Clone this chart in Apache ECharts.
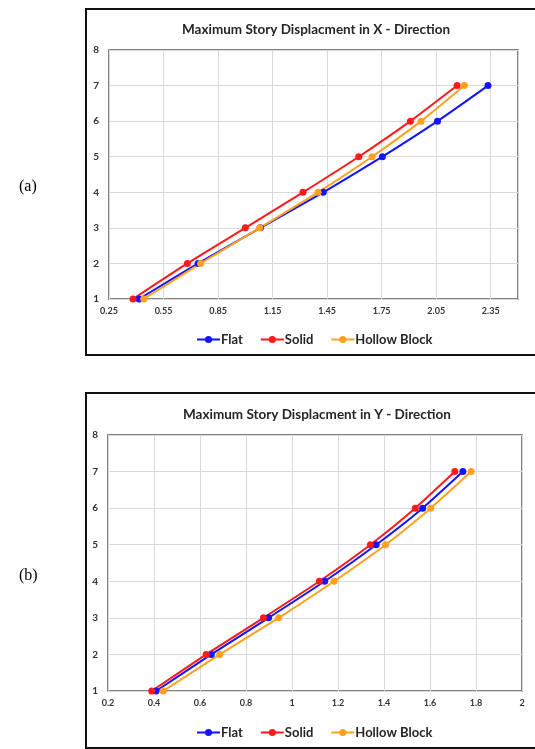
<!DOCTYPE html>
<html>
<head>
<meta charset="utf-8">
<script src="https://cdn.jsdelivr.net/npm/echarts@6/dist/echarts.min.js"></script>
<style>
html,body{margin:0;padding:0;background:#fff;}
#c{width:535px;height:749px;}
</style>
</head>
<body>
<div id="c"></div>
<script>
// ---- data ----
var stories = [1, 2, 3, 4, 5, 6, 7];
var seriesNames = ['Flat', 'Solid', 'Hollow Block'];
// X - Direction
var flatX   = [0.415, 0.740, 1.083, 1.429, 1.754, 2.057, 2.335];
var solidX  = [0.382, 0.681, 1.000, 1.317, 1.624, 1.908, 2.165];
var hollowX = [0.441, 0.754, 1.079, 1.400, 1.697, 1.967, 2.205];
// Y - Direction
var flatY   = [0.409, 0.649, 0.898, 1.142, 1.366, 1.568, 1.743];
var solidY  = [0.390, 0.627, 0.876, 1.119, 1.341, 1.536, 1.708];
var hollowY = [0.440, 0.686, 0.942, 1.183, 1.407, 1.603, 1.779];
// axis ticks
var xTicksA = [0.25, 0.55, 0.85, 1.15, 1.45, 1.75, 2.05, 2.35];
var xTicksB = [0.2, 0.4, 0.6, 0.8, 1, 1.2, 1.4, 1.6, 1.8, 2];
var yTicks  = [1, 2, 3, 4, 5, 6, 7, 8];
var titles = ['Maximum Story Displacment in X - Direction', 'Maximum Story Displacment in Y - Direction'];

var colors = ['#1414ff', '#ff1a1a', '#ffa01e'];
var FONT = 'Lato, "Open Sans", sans-serif';

function pairs(xs) { return xs.map(function (v, i) { return [v, stories[i]]; }); }

function mkSeries(name, data, idx, color) {
  return {
    name: name, type: 'line', xAxisIndex: idx, yAxisIndex: idx,
    data: pairs(data), smooth: 0.2, symbol: 'circle', symbolSize: 7,
    lineStyle: { color: color, width: 2 }, itemStyle: { color: color },
    emphasis: { disabled: true }
  };
}

function xAxis(idx, ticks) {
  var mn = ticks[0], iv = +(ticks[1] - ticks[0]).toFixed(4);
  return {
    type: 'value', gridIndex: idx, min: mn, max: idx === 0 ? 2.5 : ticks[ticks.length - 1], interval: iv,
    axisLine: { show: false }, axisTick: { show: false },
    axisLabel: { showMaxLabel: idx !== 0, color: '#333', fontFamily: FONT, fontSize: 9, fontWeight: 'bold', margin: 8,
      formatter: function (v) { return +v.toFixed(2) + ''; } },
    splitLine: { show: true, lineStyle: { color: '#d9d9d9', width: 1 } }
  };
}
function yAxis(idx) {
  return {
    type: 'value', gridIndex: idx, min: yTicks[0], max: yTicks[yTicks.length - 1], interval: 1,
    axisLine: { show: false }, axisTick: { show: false },
    axisLabel: { color: '#333', fontFamily: FONT, fontSize: 10, fontWeight: 'bold', margin: 10 },
    splitLine: { show: true, lineStyle: { color: '#d9d9d9', width: 1 } }
  };
}
function legend(top) {
  return { data: seriesNames, left: 191, top: top, itemWidth: 23, itemHeight: 9, itemGap: 17,
    textStyle: { fontFamily: FONT, fontSize: 13, fontWeight: 'bold', color: '#262626', padding: [0, 0, 0, -4] } };
}

var chart = echarts.init(document.getElementById('c'), null, { renderer: 'canvas' });
chart.setOption({
  animation: false,
  backgroundColor: '#fff',
  color: colors,
  title: [
    { text: titles[0], left: 177, top: 18, textStyle: { fontFamily: FONT, fontSize: 13.5, fontWeight: 'bold', color: '#262626' } },
    { text: titles[1], left: 178, top: 403, textStyle: { fontFamily: FONT, fontSize: 13.5, fontWeight: 'bold', color: '#262626' } },
    { text: '(a)', left: 14, top: 174, textStyle: { fontFamily: '"Liberation Serif", serif', fontSize: 16, fontWeight: 'normal', color: '#000' } },
    { text: '(b)', left: 14, top: 563, textStyle: { fontFamily: '"Liberation Serif", serif', fontSize: 16, fontWeight: 'normal', color: '#000' } }
  ],
  legend: [legend(328), legend(721)],
  grid: [
    { left: 109, top: 50, width: 409, height: 249, show: true, borderColor: '#595959', borderWidth: 1.5, backgroundColor: 'transparent' },
    { left: 108, top: 435, width: 414, height: 256, show: true, borderColor: '#595959', borderWidth: 1.5, backgroundColor: 'transparent' }
  ],
  xAxis: [xAxis(0, xTicksA), xAxis(1, xTicksB)],
  yAxis: [yAxis(0), yAxis(1)],
  series: [
    mkSeries(seriesNames[0], flatX, 0, colors[0]),
    mkSeries(seriesNames[1], solidX, 0, colors[1]),
    mkSeries(seriesNames[2], hollowX, 0, colors[2]),
    mkSeries(seriesNames[0], flatY, 1, colors[0]),
    mkSeries(seriesNames[1], solidY, 1, colors[1]),
    mkSeries(seriesNames[2], hollowY, 1, colors[2])
  ],
  graphic: [
    { type: 'rect', shape: { x: 86, y: 9, width: 460, height: 346 }, style: { fill: 'none', stroke: '#111', lineWidth: 2 }, silent: true },
    { type: 'rect', shape: { x: 86, y: 393, width: 460, height: 355 }, style: { fill: 'none', stroke: '#111', lineWidth: 2 }, silent: true }
  ]
});
</script>
</body>
</html>
